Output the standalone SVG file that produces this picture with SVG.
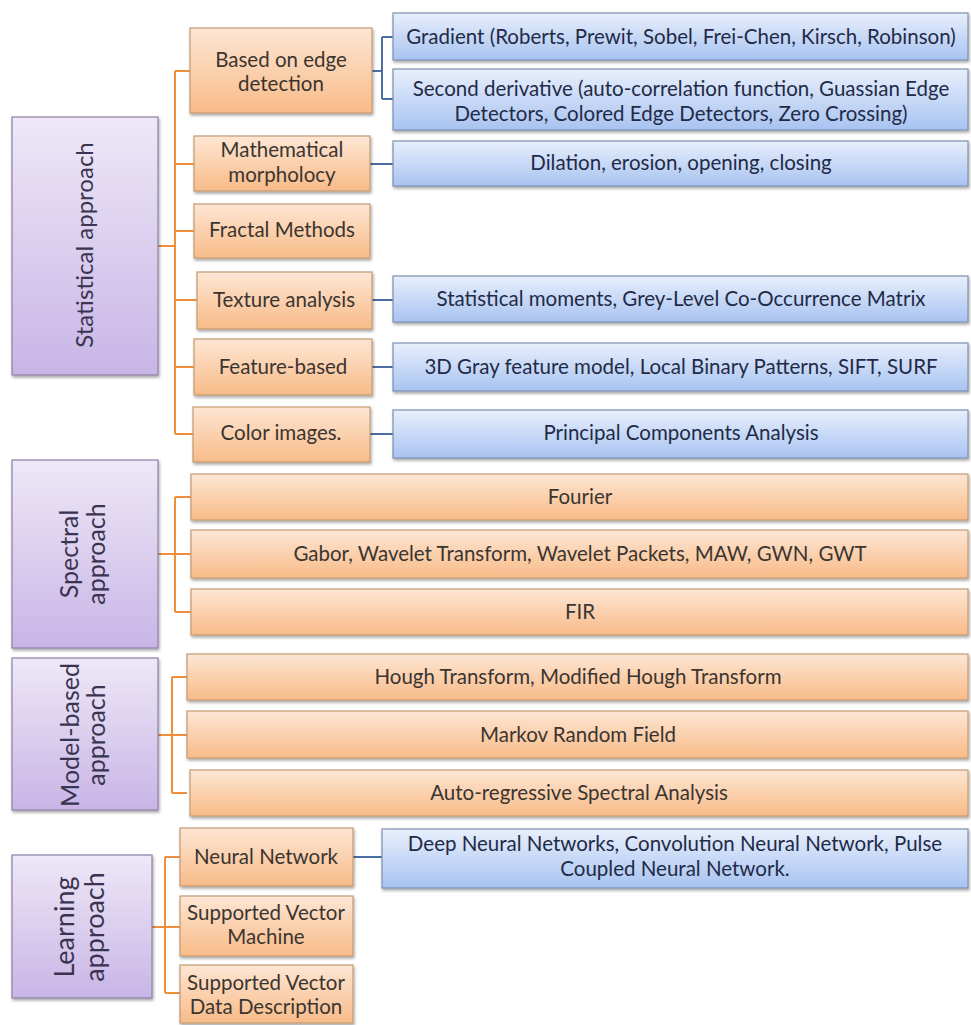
<svg xmlns="http://www.w3.org/2000/svg" width="971" height="1025" viewBox="0 0 971 1025">
<defs>
<linearGradient id="gP" x1="0" y1="0" x2="0" y2="1"><stop offset="0" stop-color="#eee8f7"/><stop offset="1" stop-color="#c8b5e6"/></linearGradient>
<linearGradient id="gO" x1="0" y1="0" x2="0" y2="1"><stop offset="0" stop-color="#fde6d4"/><stop offset="1" stop-color="#f8bb88"/></linearGradient>
<linearGradient id="gB" x1="0" y1="0" x2="0" y2="1"><stop offset="0" stop-color="#e8effc"/><stop offset="1" stop-color="#a8c3f1"/></linearGradient>
<filter id="sh" x="-5%" y="-10%" width="110%" height="130%"><feDropShadow dx="1" dy="2" stdDeviation="1.5" flood-color="#000" flood-opacity="0.35"/></filter>
<style>
.p{fill:url(#gP);stroke:#8d7fa6;stroke-width:1.2;filter:url(#sh)}
.o{fill:url(#gO);stroke:#c49a72;stroke-width:1.2;filter:url(#sh)}
.b{fill:url(#gB);stroke:#7d90b0;stroke-width:1.2;filter:url(#sh)}
text{font-family:Lato,"Liberation Sans",sans-serif;text-anchor:middle;font-size:20.5px}
.to{fill:#3b3530}
.tb{fill:#1f2b47}
.tp{fill:#3a3450;font-size:25px}
.co{stroke:#ef8f3c;stroke-width:2;fill:none}
.cb{stroke:#4a6fa5;stroke-width:2;fill:none}
</style>
</defs>
<rect width="971" height="1025" fill="#fff"/>
<g id="connectors">
<path class="co" d="M158,246 H175 M175,71 V434 M175,71 H190 M175,164 H194 M175,231 H194 M175,300 H197 M175,367 H194 M175,434 H193"/>
<path class="cb" d="M372,71 H382 M382,37 V99 M382,37 H393 M382,99 H393 M370,164 H393 M372,300 H393 M372,367 H393 M370,434 H393"/>
<path class="co" d="M158,554 H175 M175,497 V612 M175,497 H191 M175,554 H191 M175,612 H191"/>
<path class="co" d="M158,735 H172 M172,677 V793 M172,677 H187 M172,735 H187 M172,793 H187"/>
<path class="co" d="M152,927 H165 M165,857 V993 M165,857 H180 M165,927 H180 M165,993 H180"/>
<path class="cb" d="M352,857 H382"/>
</g>
<g id="statistical"><rect class="p" x="12" y="117" width="146" height="258"/><text class="tp" style="font-size:24px" transform="translate(93,245) rotate(-90)">Statistical approach</text></g>
<g id="edge"><rect class="o" x="190" y="28" width="182" height="85"/><text class="to" x="281" y="67">Based on edge</text><text class="to" x="281" y="91">detection</text></g>
<g id="morph"><rect class="o" x="194" y="136" width="176" height="55"/><text class="to" x="282" y="157">Mathematical</text><text class="to" x="282" y="182">morpholocy</text></g>
<g id="fractal"><rect class="o" x="194" y="204" width="176" height="54"/><text class="to" x="282" y="237">Fractal Methods</text></g>
<g id="texture"><rect class="o" x="197" y="272" width="175" height="57"/><text class="to" x="284" y="307">Texture analysis</text></g>
<g id="feature"><rect class="o" x="194" y="339" width="178" height="56"/><text class="to" x="283" y="374">Feature-based</text></g>
<g id="color"><rect class="o" x="193" y="407" width="177" height="55"/><text class="to" x="281" y="440">Color images.</text></g>
<g id="gradient"><rect class="b" x="393" y="13" width="575" height="47"/><text class="tb" x="681" y="44">Gradient (Roberts, Prewit, Sobel, Frei-Chen, Kirsch, Robinson)</text></g>
<g id="second"><rect class="b" x="393" y="69" width="575" height="61"/><text class="tb" x="681" y="96">Second derivative (auto-correlation function, Guassian Edge</text><text class="tb" x="681" y="121">Detectors, Colored Edge Detectors, Zero Crossing)</text></g>
<g id="dilation"><rect class="b" x="393" y="141" width="575" height="45"/><text class="tb" x="681" y="170">Dilation, erosion, opening, closing</text></g>
<g id="moments"><rect class="b" x="393" y="276" width="575" height="46"/><text class="tb" x="681" y="306">Statistical moments, Grey-Level Co-Occurrence Matrix</text></g>
<g id="gray3d"><rect class="b" x="393" y="343" width="575" height="48"/><text class="tb" x="681" y="374">3D Gray feature model, Local Binary Patterns, SIFT, SURF</text></g>
<g id="pca"><rect class="b" x="393" y="410" width="575" height="48"/><text class="tb" x="681" y="440">Principal Components Analysis</text></g>
<g id="spectral"><rect class="p" x="12" y="460" width="146" height="188"/><text class="tp" transform="translate(78,554) rotate(-90)">Spectral</text><text class="tp" transform="translate(105,554) rotate(-90)">approach</text></g>
<g id="fourier"><rect class="o" x="191" y="474" width="777" height="46"/><text class="to" x="580" y="504">Fourier</text></g>
<g id="gabor"><rect class="o" x="191" y="530" width="777" height="48"/><text class="to" x="580" y="561">Gabor, Wavelet Transform, Wavelet Packets, MAW, GWN, GWT</text></g>
<g id="fir"><rect class="o" x="191" y="589" width="777" height="46"/><text class="to" x="580" y="619">FIR</text></g>
<g id="model"><rect class="p" x="12" y="658" width="146" height="152"/><text class="tp" transform="translate(79,735) rotate(-90)">Model-based</text><text class="tp" transform="translate(105,735) rotate(-90)">approach</text></g>
<g id="hough"><rect class="o" x="187" y="654" width="781" height="46"/><text class="to" x="578" y="684">Hough Transform, Modified Hough Transform</text></g>
<g id="markov"><rect class="o" x="187" y="711" width="781" height="47"/><text class="to" x="578" y="742">Markov Random Field</text></g>
<g id="autoreg"><rect class="o" x="190" y="770" width="778" height="46"/><text class="to" x="579" y="800">Auto-regressive Spectral Analysis</text></g>
<g id="learning"><rect class="p" x="12" y="855" width="140" height="143"/><text class="tp" style="font-size:27px" transform="translate(74,927) rotate(-90)">Learning</text><text class="tp" style="font-size:27px" transform="translate(104,927) rotate(-90)">approach</text></g>
<g id="neural"><rect class="o" x="180" y="828" width="173" height="58"/><text class="to" x="266" y="864">Neural Network</text></g>
<g id="svm"><rect class="o" x="180" y="896" width="173" height="60"/><text class="to" x="266" y="920">Supported Vector</text><text class="to" x="266" y="944">Machine</text></g>
<g id="svdd"><rect class="o" x="180" y="965" width="173" height="58"/><text class="to" x="266" y="990">Supported Vector</text><text class="to" x="266" y="1014">Data Description</text></g>
<g id="deep"><rect class="b" x="382" y="829" width="586" height="59"/><text class="tb" x="675" y="851">Deep Neural Networks, Convolution Neural Network, Pulse</text><text class="tb" x="675" y="876">Coupled Neural Network.</text></g>
</svg>
